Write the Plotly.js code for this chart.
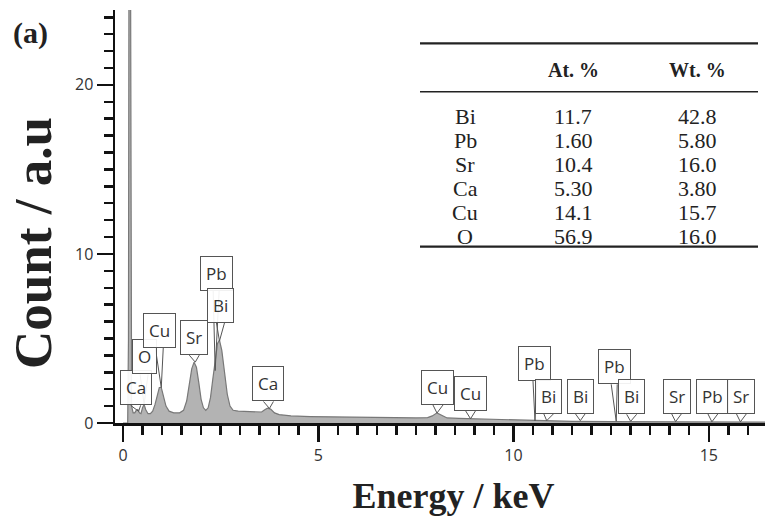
<!DOCTYPE html>
<html><head><meta charset="utf-8">
<script src="https://cdn.plot.ly/plotly-3.0.1.min.js"></script>
<style>html,body{margin:0;padding:0;background:#fff}</style>
</head><body><div id="chart" style="width:765px;height:524px"></div>
<script>
// ---- spectrum data ----
const energy = [0, 0.12, 0.14, 0.16, 0.18, 0.20, 0.22, 0.26, 0.30, 0.34, 0.38, 0.42, 0.46, 0.50, 0.54, 0.58, 0.64, 0.70, 0.76, 0.82, 0.88, 0.93, 0.98, 1.04, 1.10, 1.18, 1.30, 1.45, 1.55, 1.63, 1.70, 1.76, 1.82, 1.88, 1.94, 2.00, 2.06, 2.12, 2.18, 2.24, 2.30, 2.36, 2.42, 2.47, 2.53, 2.60, 2.67, 2.74, 2.82, 2.95, 3.10, 3.30, 3.45, 3.55, 3.63, 3.70, 3.78, 3.88, 4.00, 4.30, 4.80, 5.50, 6.50, 7.50, 7.80, 7.92, 8.04, 8.16, 8.30, 8.60, 8.90, 9.20, 9.60, 10.0, 10.6, 11.5, 12.5, 13.5, 14.5, 15.5, 16.5];
const counts = [0, 0, 5, 40, 40, 5, 1.0, 0.6, 0.6, 0.75, 0.8, 0.6, 0.55, 0.9, 1.1, 0.8, 0.55, 0.55, 0.7, 1.1, 1.7, 2.1, 2.1, 1.6, 1.0, 0.7, 0.6, 0.6, 0.75, 1.3, 2.3, 3.2, 3.6, 3.3, 2.4, 1.4, 0.9, 0.75, 0.9, 1.5, 2.6, 3.8, 4.7, 4.9, 4.3, 3.0, 1.7, 1.0, 0.75, 0.7, 0.68, 0.65, 0.62, 0.65, 0.78, 0.88, 0.82, 0.6, 0.5, 0.42, 0.38, 0.35, 0.32, 0.3, 0.32, 0.42, 0.6, 0.45, 0.3, 0.27, 0.25, 0.22, 0.2, 0.17, 0.12, 0.1, 0.08, 0.07, 0.06, 0.05, 0.05];

// ---- peak labels ----
const peakLabels = ['Ca', 'O', 'Cu', 'Sr', 'Pb', 'Bi', 'Ca', 'Cu', 'Cu', 'Pb', 'Bi', 'Bi', 'Pb', 'Bi', 'Sr', 'Pb', 'Sr'];
const peakEnergy = [0.40, 0.54, 0.98, 1.85, 2.36, 2.47, 3.75, 8.04, 8.90, 10.55, 10.85, 11.71, 12.63, 13.00, 14.15, 15.08, 15.81];
const peakTipCount = [0.69, 1.1, 2.1, 3.6, 3.1, 4.85, 0.86, 0.59, 0.25, 0.12, 0.14, 0.14, 0.1, 0.1, 0.08, 0.07, 0.07];

// ---- composition table ----
const tableHeader = ['', 'At. %', 'Wt. %'];
const elements = ['Bi', 'Pb', 'Sr', 'Ca', 'Cu', 'O'];
const atPercent = ['11.7', '1.60', '10.4', '5.30', '14.1', '56.9'];
const wtPercent = ['42.8', '5.80', '16.0', '3.80', '15.7', '16.0'];

// ---- axis ticks ----
const xTicks = [0, 5, 10, 15];
const yTicks = [0, 10, 20];

// ---- layout helpers (styling, not data) ----
// per-label pixel placement of the callout box: [dx, rise, halfWidthOfPointer]
const calloutStyle = [[-3, 6, 5], [0, 30, 4], [-2, 40, 4], [-1, 7, 5], [1, 80, 3], [1, 18, 4], [-1, 7, 5], [1, 8, 5], [0, 8, 5], [0, 40, 2], [2, 7, 5], [0, 7, 5], [-2, 37, 3], [1, 7, 5], [1, 8, 5], [1, 8, 5], [1, 8, 5]];

const L = 115, T = 10, W = 650, H = 413;
const px = v => (v - L) / W;
const py = v => (T + H - v) / H;

const serif = 'Liberation Serif, Times New Roman, serif';
const sans = 'Open Sans, Noto Sans, sans-serif';
const NB = '\u00a0', ZW = '\u200b';

const annotations = [];
const shapes = [];

peakLabels.forEach((lab, i) => {
  const [dx, rise, hw] = calloutStyle[i];
  shapes.push({
    type: 'path', xref: 'x', yref: 'y', xsizemode: 'pixel', ysizemode: 'pixel',
    xanchor: peakEnergy[i], yanchor: peakTipCount[i],
    path: `M ${dx - hw},${rise} L 0,0 L ${dx + hw},${rise}`,
    line: {color: '#555', width: 1}
  });
  annotations.push({
    x: peakEnergy[i], y: peakTipCount[i], xref: 'x', yref: 'y',
    xshift: dx, yshift: rise, xanchor: 'center', yanchor: 'bottom',
    showarrow: false, text: lab,
    font: {family: sans, size: 17, color: '#333'},
    bgcolor: 'rgba(255,255,255,0.92)', bordercolor: '#555', borderwidth: 1, borderpad: 5
  });
});

// table
const colX = [465, 573, 697];
const headerY = 70;
const rowY0 = 116, rowStep = 24.1;
tableHeader.forEach((h, j) => {
  if (!h) return;
  annotations.push({xref: 'paper', yref: 'paper', x: px(colX[j]), y: py(headerY), xanchor: 'center', yanchor: 'middle',
    showarrow: false, text: h, font: {family: serif, size: 20, color: '#222', weight: 700}});
});
elements.forEach((el, i) => {
  const cells = [el, atPercent[i], wtPercent[i]];
  cells.forEach((c, j) => {
    annotations.push({xref: 'paper', yref: 'paper', x: px(colX[j]), y: py(rowY0 + i * rowStep), xanchor: 'center', yanchor: 'middle',
      showarrow: false, text: c, font: {family: serif, size: 22, color: '#222'}});
  });
});
[[43.3, 2.2], [91.7, 1.6], [246.7, 2.2]].forEach(([yy, w]) => {
  shapes.push({type: 'line', xref: 'paper', yref: 'paper', x0: px(420), x1: px(758), y0: py(yy), y1: py(yy),
    line: {color: '#222', width: w}});
});

annotations.push({xref: 'paper', yref: 'paper', x: px(11), y: py(33), xanchor: 'left', yanchor: 'middle',
  showarrow: false, text: '(a)', font: {family: serif, size: 30, color: '#222', weight: 700}});

const trace = {
  x: energy, y: counts, type: 'scatter', mode: 'lines',
  fill: 'tozeroy', fillcolor: '#b3b3b3',
  line: {color: '#787878', width: 1.2}, hoverinfo: 'skip'
};

const tickFont = {family: sans, size: 16, color: '#333'};
const layout = {
  width: 765, height: 524,
  margin: {l: L, r: 0, t: T, b: 524 - T - H},
  paper_bgcolor: '#fff', plot_bgcolor: '#fff',
  showlegend: false,
  xaxis: {
    range: [-0.205, 16.44], tickmode: 'array', tickvals: xTicks,
    ticks: 'outside', ticklen: 16, tickwidth: 2.5, tickcolor: '#111',
    showline: true, linewidth: 2.5, linecolor: '#111', showgrid: false, zeroline: false,
    tickfont: tickFont,
    minor: {dtick: 0.5, tick0: 0, ticks: 'outside', ticklen: 9, tickwidth: 2.5, tickcolor: '#111', showgrid: false},
    title: {text: ZW + NB + NB + NB + 'Energy / keV', font: {family: serif, size: 36, color: '#222', weight: 700}, standoff: 18}
  },
  yaxis: {
    range: [0, 24.43], tickmode: 'array', tickvals: yTicks,
    ticks: 'outside', ticklen: 16, tickwidth: 2.5, tickcolor: '#111',
    showline: true, linewidth: 2.5, linecolor: '#111', showgrid: false, zeroline: false,
    tickfont: tickFont,
    minor: {dtick: 1, tick0: 0, ticks: 'outside', ticklen: 9, tickwidth: 2.5, tickcolor: '#111', showgrid: false},
    title: {text: 'Count / a.u' + NB + NB + NB + NB + ZW, font: {family: serif, size: 53, color: '#222', weight: 700}, standoff: 7}
  },
  shapes: shapes,
  annotations: annotations
};

Plotly.newPlot('chart', [trace], layout, {displayModeBar: false, staticPlot: true});
</script>
</body></html>
